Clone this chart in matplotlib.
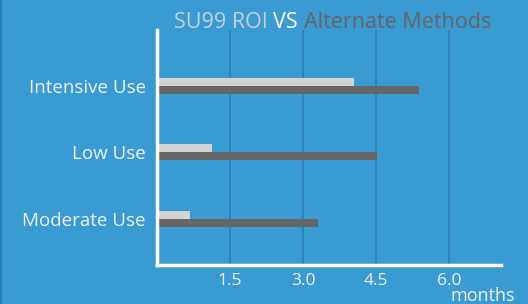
import matplotlib
matplotlib.use("Agg")
import matplotlib.pyplot as plt
from matplotlib.lines import Line2D

categories = ["Intensive Use", "Low Use", "Moderate Use"]
su99_roi = [4.05, 1.13, 0.68]
alternate = [5.38, 4.52, 3.31]
xticks = [1.5, 3.0, 4.5, 6.0]
xtick_labels = ["1.5", "3.0", "4.5", "6.0"]

BG = "#3a9ad2"
GRID = "#2e7fbf"
LIGHT = "#d3d3d3"
DARK = "#666666"
TXT = "#eef4fa"
FONT = ["Open Sans", "DejaVu Sans"]

W, H = 528, 304
fig = plt.figure(figsize=(W / 100, H / 100), dpi=100, facecolor=BG)
ax = fig.add_axes([157 / W, 1 - 265 / H, (501 - 157) / W, (265 - 30) / H])
ax.set_facecolor(BG)

y = list(range(len(categories)))
bh = 0.12
ax.barh([v - bh / 2 for v in y], su99_roi, height=bh, color=LIGHT, zorder=3)
ax.barh([v + bh / 2 for v in y], alternate, height=bh, color=DARK, zorder=3)

ax.set_xlim(0, 7.07)
ax.set_ylim(2.70, -0.845)
ax.set_xticks(xticks)
ax.set_xticklabels(xtick_labels)
ax.set_yticks(y)
ax.set_yticklabels(categories)
ax.tick_params(axis="both", length=0, colors=TXT, labelsize=12.5)
ax.tick_params(axis="y", labelsize=13.5)
ax.tick_params(axis="x", pad=6)
ax.tick_params(axis="y", pad=8)
for lab in ax.get_xticklabels() + ax.get_yticklabels():
    lab.set_family(FONT)

ax.grid(axis="x", color=GRID, linewidth=1.3, zorder=1)
ax.grid(axis="y", visible=False)
for s in ["top", "right"]:
    ax.spines[s].set_visible(False)
for s in ["left", "bottom"]:
    ax.spines[s].set_color("white")
    ax.spines[s].set_linewidth(2.5)
    ax.spines[s].set_zorder(4)

# title in three colours
title_y = 1 - 22 / H
ts = 15.5
t1 = fig.text(174 / W, title_y, "SU99 ROI ", color="#c5d0da", fontsize=ts,
              family=FONT, va="center", ha="left")
fig.canvas.draw()
r = fig.canvas.get_renderer()
bb = t1.get_window_extent(r)
t2 = fig.text(bb.x1 / W, title_y, "VS ", color="white", fontsize=ts,
              family=FONT, va="center", ha="left")
bb2 = t2.get_window_extent(r)
fig.text(bb2.x1 / W, title_y, "Alternate Methods", color=DARK, fontsize=ts,
         family=FONT, va="center", ha="left")

fig.text(483 / W, 1 - 296 / H, "months", color=TXT, fontsize=13,
         family=FONT, va="center", ha="center")

fig.add_artist(Line2D([0.5 / W, 0.5 / W], [0, 1], color="#2a7fc0",
                      linewidth=1.5, transform=fig.transFigure))

fig.savefig("out.png", dpi=100, facecolor=BG)
